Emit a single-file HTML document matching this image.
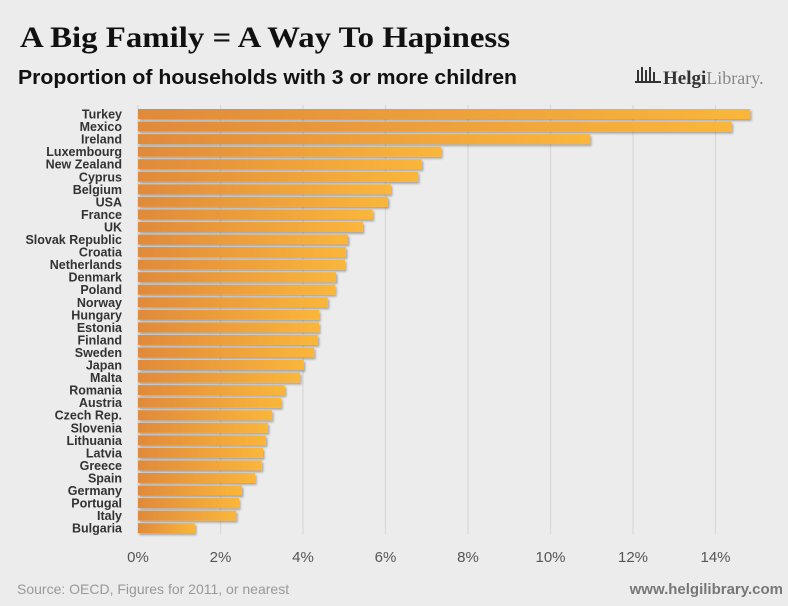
<!DOCTYPE html>
<html><head><meta charset="utf-8"><style>
html,body{margin:0;padding:0;background:#ececec;}
svg{display:block;font-family:"Liberation Sans",sans-serif;}
</style></head><body>
<svg id="chart" width="788" height="606" viewBox="0 0 788 606">
<defs>
<linearGradient id="g" x1="0" x2="1" y1="0" y2="0"><stop offset="0" stop-color="#e08a3a"/><stop offset="1" stop-color="#fab63a"/></linearGradient>
<filter id="sh" x="-5%" y="-50%" width="110%" height="200%"><feDropShadow dx="1.5" dy="2" stdDeviation="1" flood-color="#000" flood-opacity="0.3"/></filter>
</defs>
<rect width="788" height="606" fill="#ececec"/>
<text x="20" y="47" font-family="Liberation Serif,serif" font-weight="bold" font-size="30" fill="#111" textLength="490" lengthAdjust="spacingAndGlyphs">A Big Family = A Way To Hapiness</text>
<text x="18" y="84" font-weight="bold" font-size="20" fill="#111" textLength="499" lengthAdjust="spacingAndGlyphs">Proportion of households with 3 or more children</text>
<g>
<g fill="#333"><rect x="637" y="70" width="2" height="11"/><rect x="641" y="67" width="2" height="14"/><rect x="645" y="70" width="2" height="11"/><rect x="649" y="67" width="2" height="14"/><rect x="653" y="72" width="2" height="9"/><rect x="635" y="81" width="26" height="2"/></g>
<text x="663" y="84" font-family="Liberation Serif,serif" font-weight="bold" font-size="19" fill="#333">Helgi<tspan font-weight="normal" fill="#888" font-size="18">Library.</tspan></text>
</g>
<g id="grid"></g><g id="bars"></g><g id="labels"></g><g id="ticks"></g>
<text x="17" y="594" font-size="14" fill="#999">Source: OECD, Figures for 2011, or nearest</text>
<text x="783" y="594" text-anchor="end" font-weight="bold" font-size="15" fill="#777">www.helgilibrary.com</text>
</svg>
<script>
const countries=["Turkey","Mexico","Ireland","Luxembourg","New Zealand","Cyprus","Belgium","USA","France","UK","Slovak Republic","Croatia","Netherlands","Denmark","Poland","Norway","Hungary","Estonia","Finland","Sweden","Japan","Malta","Romania","Austria","Czech Rep.","Slovenia","Lithuania","Latvia","Greece","Spain","Germany","Portugal","Italy","Bulgaria"];
const values=[14.84,14.39,10.96,7.35,6.88,6.79,6.13,6.06,5.69,5.45,5.09,5.04,5.02,4.8,4.78,4.6,4.39,4.39,4.36,4.27,4.02,3.93,3.56,3.47,3.25,3.15,3.1,3.03,3.0,2.84,2.52,2.45,2.38,1.38];
const tickValues=[0,2,4,6,8,10,12,14];
const tickLabels=["0%","2%","4%","6%","8%","10%","12%","14%"];
const NS="http://www.w3.org/2000/svg";
const x=v=>138+v*41.25;
const y=i=>109+i*12.55;
function mk(t,a,p){const e=document.createElementNS(NS,t);for(const k in a)e.setAttribute(k,a[k]);p.appendChild(e);return e;}
const grid=document.getElementById('grid'),bars=document.getElementById('bars'),labels=document.getElementById('labels'),ticks=document.getElementById('ticks');
tickValues.forEach((v,i)=>{
 const l=mk('line',{x1:x(v),x2:x(v),y1:105,y2:534,stroke:'#d8d8d8','stroke-width':1.2},grid);
 
 
 const t=mk('text',{x:x(v),y:562,'text-anchor':'middle','font-size':15,fill:'#555'},ticks);
 t.textContent=tickLabels[i];
 
 
});
countries.forEach((c,i)=>{
 const r=mk('rect',{x:x(0),y:y(i),width:x(values[i])-x(0),height:10,fill:'url(#g)',filter:'url(#sh)'},bars);
 
 
 const t=mk('text',{x:122,y:y(i)+9.5,'text-anchor':'end','font-size':12.5,'font-weight':'bold',fill:'#333'},labels);
 t.textContent=c;
 
 
});
</script>
</body></html>
